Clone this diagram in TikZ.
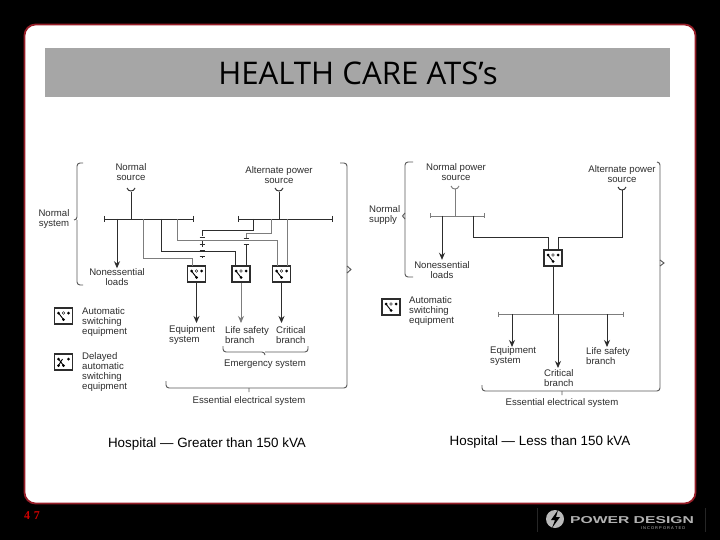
\documentclass[tikz,border=0pt]{standalone}
\usepackage{fontspec}
\setmainfont{Liberation Sans}
\newfontfamily\titlefont{Open Sans}
\newfontfamily\numfont{Liberation Serif}
\usetikzlibrary{arrows.meta}
\definecolor{framered}{RGB}{150,30,40}
\definecolor{titlegray}{RGB}{166,166,166}
\definecolor{inkgray}{RGB}{45,45,45}
\definecolor{palegray}{RGB}{125,125,125}
\definecolor{bracegray}{RGB}{90,90,90}
\tikzset{
	lbl/.style={font=\fontsize{9.6}{10}\selectfont,text=inkgray,inner sep=0pt,align=center},
	lblleft/.style={lbl,align=left,anchor=west},
	hosp/.style={font=\fontsize{13.4}{14}\selectfont,text=black,inner sep=0pt},
	feed/.style={line width=.95pt,draw=inkgray},
	feedpale/.style={line width=.95pt,draw=palegray},
	brc/.style={line width=.95pt,draw=bracegray,rounded corners=3pt},
	load/.style={line width=.95pt,draw=inkgray,-{Stealth[length=7pt,width=6pt]}},
	atsbox/.style={draw=inkgray,line width=1.2pt,fill=white,minimum width=18pt,minimum height=16pt,inner sep=0pt,
		path picture={
			\fill[black] (path picture bounding box.center)+(-5,-3) circle (1.5pt) +(5,-3) circle (1.5pt) +(0,3.5) circle (1.5pt);
			\draw[black,line width=.9pt] (path picture bounding box.center)+(-5,-3) -- +(0,3.5);
			\draw[black,line width=.4pt] (path picture bounding box.center)+(0,-3) circle (1.3pt);
		}},
	delaybox/.style={atsbox,
		path picture={
			\fill[black] (path picture bounding box.center)+(-5,-3) circle (1.5pt) +(5,-3) circle (1.5pt) +(-5,3.5) circle (1.5pt) +(0,3.5) circle (1.5pt);
			\draw[black,line width=.9pt] (path picture bounding box.center)+(-5,-3) -- +(0,3.5) +(-5,3.5) -- +(-1,-3);
		}}
}
\begin{document}
\begin{tikzpicture}[x=1pt,y=-1pt]
	\useasboundingbox (0,0) rectangle (720,540);
	\fill[black] (0,0) rectangle (720,540);
	\draw[draw=framered,line width=1.8pt,fill=white,rounded corners=11pt] (24.5,24.5) rectangle (695.5,503.5);
	\fill[titlegray] (45,48) rectangle (670,97);
	\node[font=\titlefont\fontsize{31.2}{34}\selectfont,inner sep=0pt] (title) at (358,73) {HEALTH CARE ATS’s};
	% left one line
	\node[lbl] (srcA) at (131,172.5) {Normal\\source};
	\node[lbl] (altA) at (279,175) {Alternate power\\source};
	\node[lbl] (sysA) at (54,219.5) {Normal\\system};
	\node[lbl] (nonA) at (117,277) {Nonessential\\loads};
	\node[atsbox] (atsA) at (196.5,274) {};
	\node[atsbox] (atsB) at (241,274) {};
	\node[atsbox] (atsC) at (281.5,274) {};
	\foreach \n/\x/\y in {cupA/131/192,cupB/279/192,busAl/104/219,busAr/193/219,busBl/238/219,busBr/332/219,
		tapN/117/219,tapA/143/219,tapB/161/219,tapC/177/219,tapD/253/219,tapE/271/219,tapF/287/219,
		inA/192/265.5,inB/235/265.5,inC/277/265.5,inD/246/265.5,inF/287/265.5,
		conA/202/236,conB/246/238,conC/246/244,
		endA/196.5/323,endB/241/323,endC/281.5/323}
		\coordinate (\n) at (\x,\y);
	\draw[feed] (cupA) -- (cupA |- busAl);
	\draw[feed] (cupB) -- (cupB |- busBl);
	\draw[feed] (127,188) .. controls (128,192) and (134,192) .. (135,188);
	\draw[feed] (275,188) .. controls (276,192) and (282,192) .. (283,188);
	\draw[feed] (busAl) -- (busAr);
	\draw[feed] (busBl) -- (busBr);
	\foreach \p in {busAl,busAr,busBl,busBr}
		\draw[feed] (\p)+(0,-3) -- +(0,3);
	\draw[load] (tapN) -- (nonA.north);
	\draw[feedpale] (tapA) |- (192,258) -- (inA);
	\draw[feed] (tapB) |- (235,251) -- (inB);
	\draw[feedpale] (tapC) |- (277,240) -- (inC);
	\draw[feed] (tapD) |- (202,230) -- (conA);
	\draw[feedpale] (tapE) |- (246,233) -- (conB);
	\draw[feed] (conC) -- (inD);
	\draw[feedpale] (tapF) -- (inF);
	% transfer contacts
	\draw[feed,line width=.6pt] (199.5,237) -- (204.5,237) (202,241) -- (202,247) (199.5,244) -- (204.5,244) (199.5,250) -- (204.5,250) (202,250) -- (202,252);
	\draw[feed,line width=.6pt] (199.5,256) -- (204.5,256) (202,256) -- (202,258);
	\draw[feed,line width=.6pt] (243.5,238.5) -- (248.5,238.5) (243.5,244) -- (248.5,244);
	\node[lblleft] (eqA) at (169,335) {Equipment\\system};
	\node[lblleft] (lifeA) at (225,335) {Life safety\\branch};
	\node[lblleft] (critA) at (276,335) {Critical\\branch};
	\draw[load] (atsA) -- (endA);
	\draw[load,draw=palegray] (atsB) -- (endB);
	\draw[load] (atsC) -- (endC);
	\node[lbl] (emerg) at (265,364) {Emergency system};
	\node[lbl] (essA) at (249,401) {Essential electrical system};
	\draw[brc] (223,346) |- (265,352) -- (265,355) (265,352) -| (308,346);
	\draw[brc] (83,163) -| (77,220) -- (74,220) (77,220) |- (83,285);
	\draw[brc] (340,163) -| (347,388) -| (166,381);
	\draw[brc,rounded corners=0pt] (347,266) -- (351,269.5) -- (347,273) (249,388) -- (249,392);
	\node[atsbox] (legA) at (63.5,316) {};
	\node[delaybox] (legB) at (63.5,362) {};
	\node[lblleft] (legAt) at (82,322) {Automatic\\switching\\equipment};
	\node[lblleft] (legBt) at (82,372) {Delayed\\automatic\\switching\\equipment};
	\node[hosp] (hospA) at (207,444) {Hospital — Greater than 150 kVA};
	% right one line
	\node[lbl] (srcR) at (456,172) {Normal power\\source};
	\node[lbl] (altR) at (622,174.5) {Alternate power\\source};
	\node[lblleft] (supR) at (369,215.5) {Normal\\supply};
	\node[lbl] (nonR) at (442,270.5) {Nonessential\\loads};
	\node[atsbox] (atsR) at (553,258) {};
	\foreach \n/\x/\y in {cupC/455/189,cupD/622/190,busCl/430/216,busCr/484/216,busDl/498/314,busDr/623/314,
		tapP/442/216,tapQ/473/216,inP/548/250,inQ/558/250,tapR/553/314,
		tapS/512/314,tapT/558/314,tapU/607/314,endS/512/347,endT/558/368,endU/607/347}
		\coordinate (\n) at (\x,\y);
	\draw[feedpale] (cupC) -- (cupC |- busCl);
	\draw[feedpale] (451,186) .. controls (452,190) and (458,190) .. (459,186);
	\draw[feed] (618,187) .. controls (619,191) and (625,191) .. (626,187);
	\draw[feedpale] (busCl) -- (busCr);
	\draw[feedpale] (busDl) -- (busDr);
	\foreach \p in {busCl,busCr,busDl,busDr}
		\draw[feedpale] (\p)+(0,-2.5) -- +(0,2.5);
	\draw[load,shorten >=2pt] (tapP) -- (nonR.north);
	\draw[feed] (tapQ) |- (548,237) -- (inP);
	\draw[feed] (cupD) |- (558,237) -- (inQ);
	\draw[feed] (atsR) -- (tapR);
	\draw[load] (tapS) -- (endS);
	\draw[load] (tapT) -- (endT);
	\draw[load] (tapU) -- (endU);
	\node[lblleft] (eqR) at (490,356.5) {Equipment\\system};
	\node[lblleft] (critR) at (544,378) {Critical\\branch};
	\node[lblleft] (lifeR) at (586,356.5) {Life safety\\branch};
	\node[lbl] (essR) at (562,403) {Essential electrical system};
	\draw[brc] (413,162) -| (405,277) -- (413,277);
	\draw[brc,rounded corners=0pt] (405,213) -- (402.5,216) -- (405,219);
	\draw[brc] (657,162) -| (660,391) -| (482,385);
	\draw[brc,rounded corners=0pt] (660,260) -- (664,263) -- (660,266) (562,391) -- (562,395);
	\node[atsbox] (legR) at (391,307) {};
	\node[lblleft] (legRt) at (409,311.5) {Automatic\\switching\\equipment};
	\node[hosp] (hospR) at (540,442) {Hospital — Less than 150 kVA};
	% footer
	\node[font=\numfont\bfseries\fontsize{12}{12}\selectfont,text=red!80!black,inner sep=0pt] (page) at (32,516) {4\,\,7};
	\draw[gray!30!black,line width=.5pt] (537,508) -- (537,532) (705,508) -- (705,532);
	\fill[gray!55] (555,519) circle (9pt);
	\fill[black] (558,510) -- (551,520) -- (555,520) -- (552,528) -- (560,517) -- (556,517) -- cycle;
	\node[font=\bfseries\fontsize{10}{10}\selectfont,text=gray!60,inner sep=0pt] (brand) at (632,520.5) {\scalebox{1.57}[1]{POWER DESIGN}};
	\node[font=\fontsize{4}{4}\selectfont,text=gray!50,inner sep=0pt] (inc) at (663,528) {I\;N\;C\;O\;R\;P\;O\;R\;A\;T\;E\;D};
\end{tikzpicture}
\end{document}
